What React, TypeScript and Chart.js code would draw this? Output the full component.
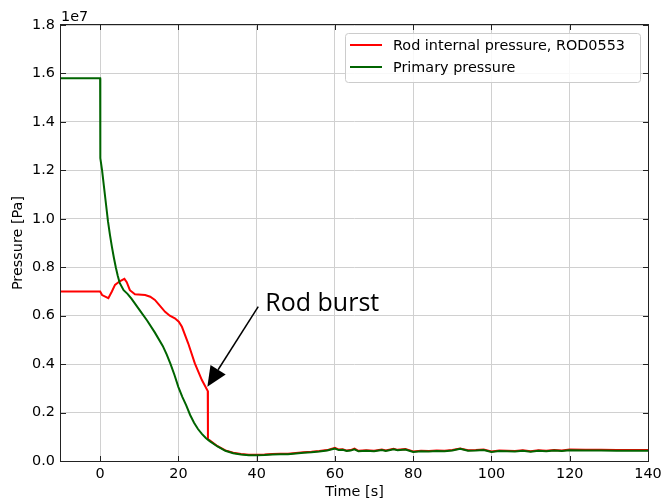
import React, { useEffect, useRef } from "react";
import { Chart, registerables } from "chart.js";

Chart.register(...registerables);

// Time [s] and pressure [x1e7 Pa]
const timeRod = [-10, 0, 0.5, 2.1, 3, 3.8, 5, 6.2, 6.8, 7.6, 8.9, 11.5, 12.8, 14, 15.3, 16.6, 17.8, 19.1, 20.1, 20.9, 22.5, 24.2, 26, 27.5, 27.55, 28, 30, 32, 34, 36, 38, 40, 42, 44, 46, 48, 50, 52, 54, 56, 58, 60, 61, 62, 63, 64, 65, 66, 68, 70, 72, 73, 75, 76, 78, 80, 82, 84, 86, 88, 90, 92, 94, 96, 98, 100, 102, 104, 106, 108, 110, 112, 114, 116, 118, 120, 124, 128, 132, 136, 140];
const pressureRod = [0.70, 0.70, 0.685, 0.672, 0.700, 0.727, 0.742, 0.752, 0.738, 0.705, 0.688, 0.685, 0.678, 0.665, 0.640, 0.616, 0.600, 0.589, 0.575, 0.554, 0.486, 0.403, 0.334, 0.289, 0.090, 0.085, 0.061, 0.044, 0.034, 0.029, 0.026, 0.026, 0.027, 0.029, 0.030, 0.030, 0.033, 0.036, 0.038, 0.041, 0.045, 0.054, 0.047, 0.048, 0.043, 0.045, 0.051, 0.042, 0.044, 0.042, 0.047, 0.043, 0.050, 0.046, 0.049, 0.039, 0.042, 0.041, 0.043, 0.042, 0.045, 0.052, 0.044, 0.045, 0.047, 0.039, 0.043, 0.042, 0.041, 0.044, 0.040, 0.044, 0.042, 0.045, 0.043, 0.047, 0.046, 0.046, 0.045, 0.045, 0.045];

const timePrimary = [-10, 0, 0.05, 0.5, 1, 1.5, 2, 2.5, 3, 3.5, 4, 4.5, 5, 6, 7, 8, 10, 12, 14, 16, 17, 18, 19, 20, 21, 22, 23, 24, 25, 26, 27, 28, 30, 32, 34, 36, 38, 40, 42, 44, 46, 48, 50, 52, 54, 56, 58, 60, 61, 62, 63, 64, 65, 66, 68, 70, 72, 73, 75, 76, 78, 80, 82, 84, 86, 88, 90, 92, 94, 96, 98, 100, 102, 104, 106, 108, 110, 112, 114, 116, 118, 120, 124, 128, 132, 136, 140];
const pressurePrimary = [1.58, 1.58, 1.25, 1.20, 1.13, 1.06, 0.99, 0.935, 0.885, 0.84, 0.80, 0.765, 0.735, 0.705, 0.69, 0.67, 0.625, 0.58, 0.53, 0.475, 0.44, 0.40, 0.355, 0.305, 0.265, 0.23, 0.19, 0.158, 0.132, 0.112, 0.095, 0.082, 0.060, 0.042, 0.032, 0.027, 0.024, 0.024, 0.025, 0.027, 0.028, 0.028, 0.031, 0.034, 0.036, 0.039, 0.043, 0.051, 0.045, 0.046, 0.041, 0.043, 0.048, 0.040, 0.042, 0.040, 0.045, 0.041, 0.048, 0.044, 0.047, 0.037, 0.040, 0.039, 0.041, 0.040, 0.043, 0.050, 0.042, 0.043, 0.045, 0.037, 0.041, 0.040, 0.039, 0.042, 0.038, 0.042, 0.040, 0.043, 0.041, 0.044, 0.043, 0.043, 0.042, 0.042, 0.042];

const xTicks = [0, 20, 40, 60, 80, 100, 120, 140];
const yTicks = [0, 0.2, 0.4, 0.6, 0.8, 1.0, 1.2, 1.4, 1.6, 1.8];
const seriesLabels = ["Rod internal pressure, ROD0553", "Primary pressure"];
const seriesColors = ["#ff0000", "#006400"];
const burstTip = { t: 27.4, p: 0.307 };
const burstTail = { t: 40.4, p: 0.637 };
const burstText = { t: 42.2, p: 0.65, label: "Rod burst" };

const FONT = "DejaVu Sans";
const FS = 14.4;

const decorPlugin = {
  id: "decor",
  beforeDraw(chart: any) {
    const ctx = chart.ctx;
    ctx.save();
    ctx.fillStyle = "#ffffff";
    ctx.fillRect(0, 0, chart.width, chart.height);
    ctx.restore();
  },
  afterDraw(chart: any) {
    const ctx = chart.ctx;
    const { left, right, top, bottom } = chart.chartArea;
    const xs = chart.scales.x;
    const ys = chart.scales.y;
    ctx.save();
    // frame
    ctx.strokeStyle = "#222";
    ctx.lineWidth = 1;
    ctx.strokeRect(Math.round(left) - 0.5, Math.round(top) - 0.5, Math.round(right - left) + 1, Math.round(bottom - top) + 1);
    // inward ticks
    const tl = 5;
    ctx.beginPath();
    xTicks.forEach((v) => {
      const px = Math.round(xs.getPixelForValue(v)) + 0.5;
      ctx.moveTo(px, bottom);
      ctx.lineTo(px, bottom - tl);
      ctx.moveTo(px, top);
      ctx.lineTo(px, top + tl);
    });
    yTicks.forEach((v) => {
      const py = Math.round(ys.getPixelForValue(v)) + 0.5;
      ctx.moveTo(left, py);
      ctx.lineTo(left + tl, py);
      ctx.moveTo(right, py);
      ctx.lineTo(right - tl, py);
    });
    ctx.stroke();
    // offset text
    ctx.fillStyle = "#000";
    ctx.font = `${FS}px '${FONT}'`;
    ctx.textAlign = "left";
    ctx.textBaseline = "alphabetic";
    ctx.fillText("1e7", left, top - 4);
    // axis titles
    ctx.textAlign = "center";
    ctx.textBaseline = "alphabetic";
    ctx.fillText("Time [s]", (left + right) / 2, 496);
    ctx.save();
    ctx.translate(18, (top + bottom) / 2);
    ctx.rotate(-Math.PI / 2);
    ctx.textBaseline = "middle";
    ctx.fillText("Pressure [Pa]", 0, 0);
    ctx.restore();
    // legend
    const lx = 345, ly = 33, lw = 295, lh = 49;
    ctx.fillStyle = "rgba(255,255,255,0.85)";
    ctx.strokeStyle = "#cccccc";
    ctx.lineWidth = 1;
    ctx.beginPath();
    (ctx as any).roundRect(lx + 0.5, ly + 0.5, lw, lh, 3);
    ctx.fill();
    ctx.stroke();
    seriesLabels.forEach((lab, i) => {
      const y = 45 + i * 22;
      ctx.strokeStyle = seriesColors[i];
      ctx.lineWidth = 2;
      ctx.beginPath();
      ctx.moveTo(350, y);
      ctx.lineTo(382, y);
      ctx.stroke();
      ctx.fillStyle = "#000";
      ctx.font = `${FS}px '${FONT}'`;
      ctx.textAlign = "left";
      ctx.textBaseline = "middle";
      ctx.fillText(lab, 393, y + 1);
    });
    // annotation arrow
    const tx = xs.getPixelForValue(burstTip.t), ty = ys.getPixelForValue(burstTip.p);
    const sx = xs.getPixelForValue(burstTail.t), sy = ys.getPixelForValue(burstTail.p);
    const dx = tx - sx, dy = ty - sy;
    const len = Math.hypot(dx, dy);
    const ux = dx / len, uy = dy / len;
    const hl = 20, hw = 9;
    const bx = tx - ux * hl, by = ty - uy * hl;
    ctx.strokeStyle = "#000";
    ctx.lineWidth = 1.5;
    ctx.beginPath();
    ctx.moveTo(sx, sy);
    ctx.lineTo(bx, by);
    ctx.stroke();
    ctx.fillStyle = "#000";
    ctx.beginPath();
    ctx.moveTo(tx, ty);
    ctx.lineTo(bx - uy * hw, by + ux * hw);
    ctx.lineTo(bx + uy * hw, by - ux * hw);
    ctx.closePath();
    ctx.fill();
    ctx.font = "25px 'Open Sans'";
    ctx.textAlign = "left";
    ctx.textBaseline = "middle";
    ctx.fillText(burstText.label, xs.getPixelForValue(burstText.t), ys.getPixelForValue(burstText.p));
    ctx.restore();
  },
};

export default function App() {
  const ref = useRef<HTMLCanvasElement | null>(null);
  useEffect(() => {
    document.body.style.margin = "0";
    const canvas = ref.current;
    if (!canvas) return;
    const rod = timeRod.map((t, i) => ({ x: t, y: pressureRod[i] }));
    const prim = timePrimary.map((t, i) => ({ x: t, y: pressurePrimary[i] }));
    const chart = new Chart(canvas, {
      type: "line",
      data: {
        datasets: [
          { label: seriesLabels[0], data: rod, borderColor: seriesColors[0], borderWidth: 2, pointRadius: 0, tension: 0, order: 1 },
          { label: seriesLabels[1], data: prim, borderColor: seriesColors[1], borderWidth: 2, pointRadius: 0, tension: 0, order: 0 },
        ],
      },
      options: {
        animation: false,
        responsive: false,
        maintainAspectRatio: false,
        devicePixelRatio: 1,
        layout: { padding: { top: 25, right: 14, left: 0, bottom: 0 } },
        plugins: { legend: { display: false }, tooltip: { enabled: false } },
        scales: {
          x: {
            type: "linear",
            min: -10,
            max: 140,
            afterBuildTicks: (s: any) => { s.ticks = xTicks.map((v) => ({ value: v })); },
            afterFit: (s: any) => { s.height = 43; s.paddingLeft = 0; s.paddingRight = 0; },
            grid: { color: "#d0d0d0", drawTicks: false, lineWidth: 1 },
            border: { display: false },
            ticks: { color: "#000", font: { family: FONT, size: FS }, padding: 5, maxRotation: 0, autoSkip: false },
          },
          y: {
            type: "linear",
            min: 0,
            max: 1.8,
            afterBuildTicks: (s: any) => { s.ticks = yTicks.map((v) => ({ value: v })); },
            afterFit: (s: any) => { s.width = 61; s.paddingTop = 0; s.paddingBottom = 0; },
            grid: { color: "#d0d0d0", drawTicks: false, lineWidth: 1 },
            border: { display: false },
            ticks: { color: "#000", font: { family: FONT, size: FS }, padding: 6, autoSkip: false, callback: (v: any) => Number(v).toFixed(1) },
          },
        },
      },
      plugins: [decorPlugin],
    });
    return () => chart.destroy();
  }, []);
  return (
    <div style={{ width: 662, height: 504 }}>
      <canvas ref={ref} width={662} height={504} style={{ width: 662, height: 504, display: "block" }} />
    </div>
  );
}
